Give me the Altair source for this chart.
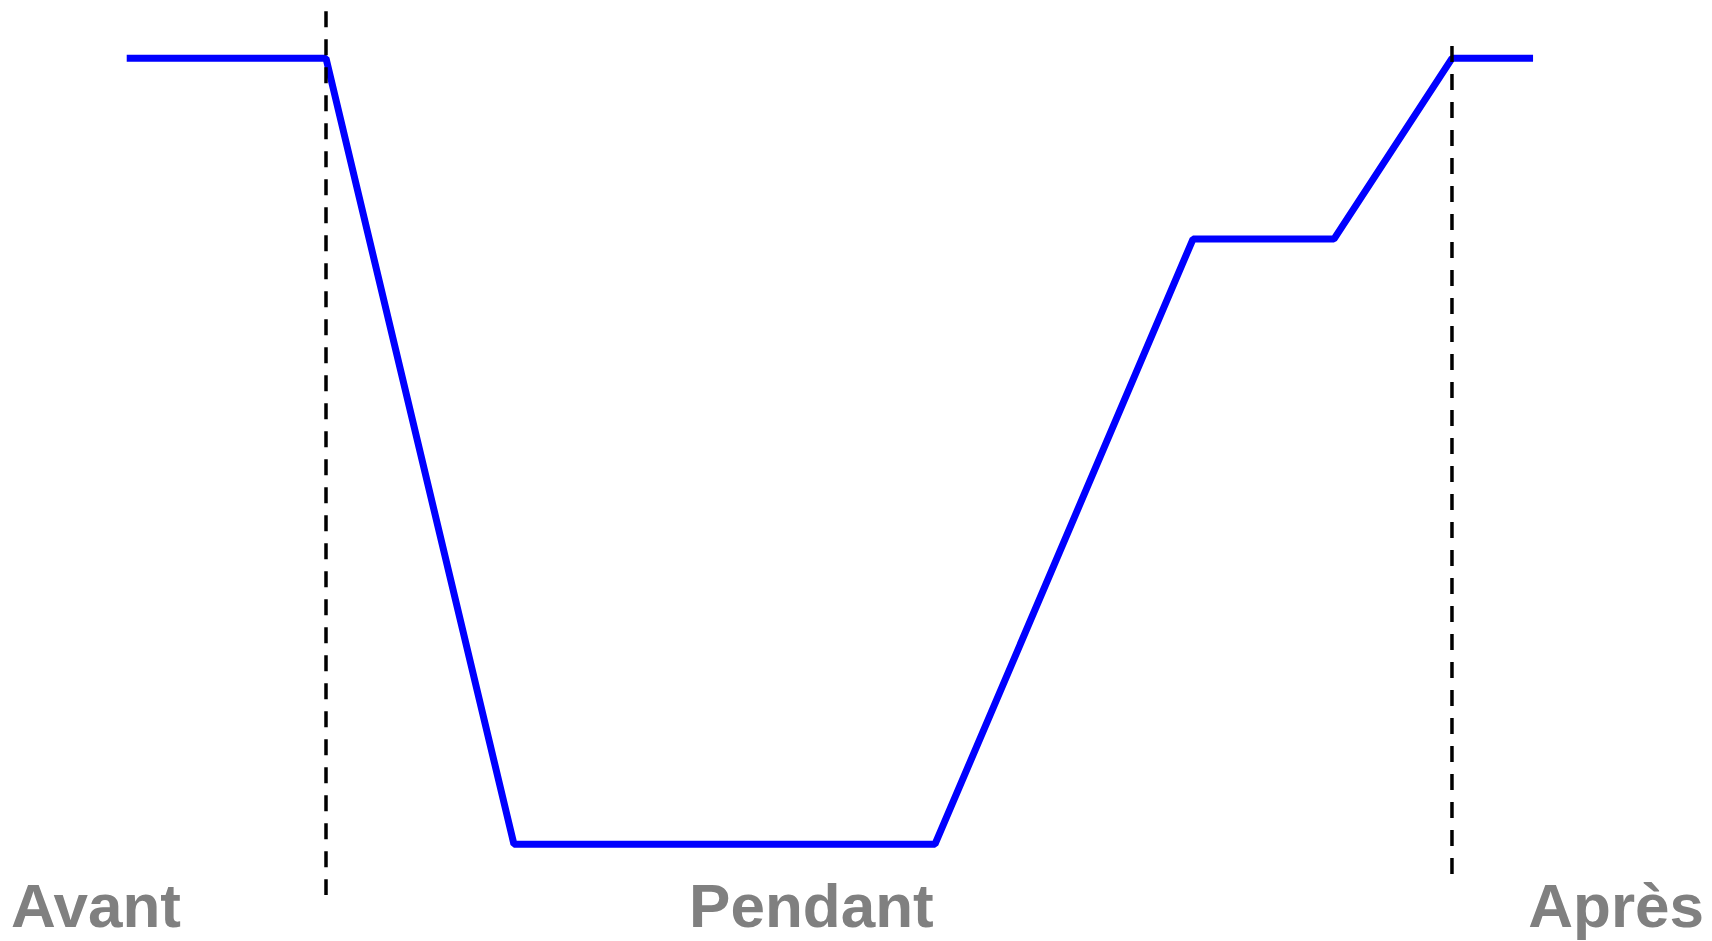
import altair as alt
import pandas as pd

# Curve: time (0-100) vs level (0-100)
curve_time = [7.0, 18.75, 29.83, 54.66, 69.87, 78.18, 85.14, 89.92]
curve_level = [100, 100, 0, 0, 77, 77, 100, 100]

# Phase boundary markers (dashed)
marker_time = [18.75, 85.14]
marker_top = [106.0, 101.56]
marker_bottom = [-6.46, -3.79]

# Phase labels
label_text = ["Avant", "Pendant", "Après"]
label_time = [0.18, 47.37, 100.0]
label_level = [-10.54, -10.54, -10.54]
label_align = ["left", "center", "right"]

curve = pd.DataFrame({"t": curve_time, "v": curve_level})
markers = pd.DataFrame({"t": marker_time, "top": marker_top, "bottom": marker_bottom})
labels = pd.DataFrame({"t": label_time, "v": label_level, "txt": label_text, "al": label_align})

xs = alt.Scale(domain=[0, 100], nice=False, zero=False)
ys = alt.Scale(domain=[-12.32, 106.4], nice=False, zero=False)

line = alt.Chart(curve).mark_line(color="#0000ff", strokeWidth=7, strokeJoin="bevel").encode(
    x=alt.X("t:Q", scale=xs, axis=None),
    y=alt.Y("v:Q", scale=ys, axis=None),
)

rules = alt.Chart(markers).mark_rule(color="black", strokeWidth=3.5, strokeDash=[16, 12]).encode(
    x=alt.X("t:Q", scale=xs, axis=None),
    y=alt.Y("top:Q", scale=ys, axis=None),
    y2="bottom:Q",
)

text_layers = []
for al in ["left", "center", "right"]:
    text_layers.append(
        alt.Chart(labels[labels["al"] == al]).mark_text(
            align=al, baseline="alphabetic", font="Liberation Sans",
            fontWeight="bold", fontSize=62, color="#808080"
        ).encode(
            x=alt.X("t:Q", scale=xs, axis=None),
            y=alt.Y("v:Q", scale=ys, axis=None),
            text="txt:N",
        )
    )

chart = alt.layer(line, rules, *text_layers).properties(
    width=1696, height=933,
    autosize=alt.AutoSizeParams(type="none"),
    padding=0,
).configure_view(stroke=None)

chart.save("out.html", embed_options={"renderer": "svg", "actions": False})
